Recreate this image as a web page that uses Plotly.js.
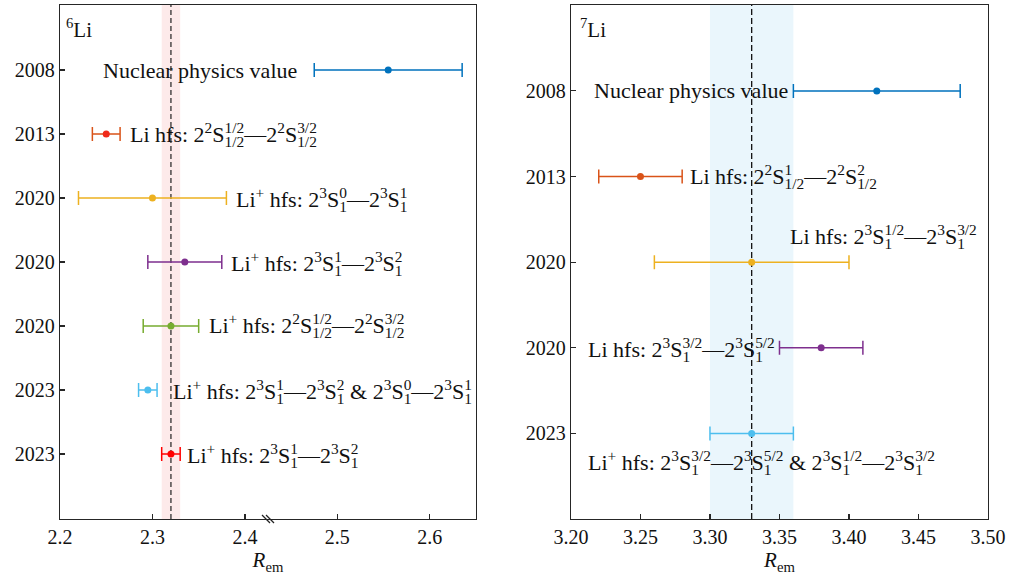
<!DOCTYPE html>
<html><head><meta charset="utf-8">
<script src="https://cdn.plot.ly/plotly-3.0.1.min.js"></script>
<style>html,body{margin:0;padding:0;background:#fff}</style>
</head><body><div id="chart" style="width:1010px;height:576px"></div>
<script>
// ---------- data ----------
const li6Years  = ['2008', '2013', '2020', '2020', '2020', '2023', '2023'];
const li6Values = [2.555, 2.25, 2.30, 2.335, 2.32, 2.295, 2.32];
const li6Errors = [0.08, 0.015, 0.08, 0.04, 0.03, 0.01, 0.01];
const li6Ref = 2.32;
const li6Band = [2.31, 2.33];
const li6Ticks = [2.2, 2.3, 2.4, 2.5, 2.6];

const li7Years  = ['2008', '2013', '2020', '2020', '2023'];
const li7Values = [3.42, 3.25, 3.33, 3.38, 3.33];
const li7Errors = [0.06, 0.03, 0.07, 0.03, 0.03];
const li7Ref = 3.33;
const li7Band = [3.30, 3.36];
const li7Ticks = [3.20, 3.25, 3.30, 3.35, 3.40, 3.45, 3.50];
const axisBreak = 2.425;

// ---------- styles ----------
const FONT = 'Liberation Serif, Times New Roman, serif';
const LABEL_SIZE = 22;
const TICK_SIZE = 20;
const TEXT = '#111111';
const li6Colors  = ['#0072BD', '#D95319', '#EDB120', '#7E2F8E', '#77AC30', '#4DBEEE', '#FF0000'];
const li6Markers = ['#0072BD', '#F02A1A', '#EDB120', '#7E2F8E', '#77AC30', '#4DBEEE', '#FF0000'];
const li7Colors  = ['#0072BD', '#D95319', '#EDB120', '#7E2F8E', '#4DBEEE'];

const ctx = document.createElement('canvas').getContext('2d');
function tw(s, size) { ctx.font = size + 'px "Liberation Serif"'; return ctx.measureText(s).width; }
// stacked superscript / subscript
function st(sup, sub) {
  const sz = LABEL_SIZE * 0.7;
  const ws = tw(sub, sz), wp = tw(sup, sz);
  const extra = Math.max(0, ws - wp);
  return '<sub>' + sub.slice(0, -1) + '<span style="letter-spacing:' + (-ws).toFixed(2) + 'px">' + sub.slice(-1) + '</span></sub>' +
         '<sup>' + sup.slice(0, -1) +
         (extra > 0 ? '<span style="letter-spacing:' + extra.toFixed(2) + 'px">' + sup.slice(-1) + '</span>' : sup.slice(-1)) +
         '</sup>';
}
const S2 = '2<sup>2</sup>S', S3 = '2<sup>3</sup>S', LIP = 'Li<sup>+</sup>';
const li6Labels = [
  'Nuclear physics value',
  'Li hfs: ' + S2 + st('1/2', '1/2') + '—' + S2 + st('3/2', '1/2'),
  LIP + ' hfs: ' + S3 + st('0', '1') + '—' + S3 + st('1', '1'),
  LIP + ' hfs: ' + S3 + st('1', '1') + '—' + S3 + st('2', '1'),
  LIP + ' hfs: ' + S2 + st('1/2', '1/2') + '—' + S2 + st('3/2', '1/2'),
  LIP + ' hfs: ' + S3 + st('1', '1') + '—' + S3 + st('2', '1') + ' &amp; ' + S3 + st('0', '1') + '—' + S3 + st('1', '1'),
  LIP + ' hfs: ' + S3 + st('1', '1') + '—' + S3 + st('2', '1')
];
const li7Labels = [
  'Nuclear physics value',
  'Li hfs: ' + S2 + st('1', '1/2') + '—' + S2 + st('2', '1/2'),
  'Li hfs: ' + S3 + st('1/2', '1') + '—' + S3 + st('3/2', '1'),
  'Li hfs: ' + S3 + st('3/2', '1') + '—' + S3 + st('5/2', '1'),
  LIP + ' hfs: ' + S3 + st('3/2', '1') + '—' + S3 + st('5/2', '1') + ' &amp; ' + S3 + st('1/2', '1') + '—' + S3 + st('3/2', '1')
];
// label placement: side of bar ('L' left of bar, 'R' right of bar, 'C' centred on value), pixel shifts
const li6Place = [['L', -15, 0], ['R', 8, 0], ['R', 8, 0], ['R', 7, 0], ['R', 8, 0], ['R', 14, 0], ['R', 5, 0]];
const li7Place = [['L', -3, 0], ['R', 6, 0], ['C', 132, 27], ['L', -2, 0], ['C', 10, -28]];

function idx(a) { return a.map((_, i) => i); }

const traces = [];
const annotations = [];
function addPanel(values, errors, colors, markers, labels, place, xa, ya) {
  values.forEach((v, i) => {
    traces.push({
      type: 'scatter', mode: 'markers', x: [v], y: [i], xaxis: xa, yaxis: ya,
      marker: { color: markers[i], size: 7 },
      error_x: { type: 'data', array: [errors[i]], visible: true, color: colors[i], thickness: 1.5, width: 7 },
      hoverinfo: 'skip', showlegend: false, cliponaxis: false
    });
    const p = place[i];
    let x = v, anchor = 'center';
    if (p[0] === 'L') { x = v - errors[i]; anchor = 'right'; }
    if (p[0] === 'R') { x = v + errors[i]; anchor = 'left'; }
    annotations.push({
      xref: xa, yref: ya, x: x, y: i, text: labels[i], showarrow: false,
      xanchor: anchor, yanchor: 'middle', xshift: p[1], yshift: p[2],
      font: { family: FONT, size: LABEL_SIZE, color: TEXT }
    });
  });
}
addPanel(li6Values, li6Errors, li6Colors, li6Markers, li6Labels, li6Place, 'x', 'y');
addPanel(li7Values, li7Errors, li7Colors, li7Colors, li7Labels, li7Place, 'x2', 'y2');

annotations.push({ xref: 'x domain', yref: 'y domain', x: 0.01, y: 0.955, xanchor: 'left', yanchor: 'middle',
  text: '<sup>6</sup>Li', showarrow: false, font: { family: FONT, size: LABEL_SIZE - 1, color: TEXT } });
annotations.push({ xref: 'x2 domain', yref: 'y2 domain', x: 0.016, y: 0.955, xanchor: 'left', yanchor: 'middle',
  text: '<sup>7</sup>Li', showarrow: false, font: { family: FONT, size: LABEL_SIZE - 1, color: TEXT } });

const shapes = [
  { type: 'rect', xref: 'x', yref: 'y domain', x0: li6Band[0], x1: li6Band[1], y0: 0, y1: 1,
    fillcolor: 'rgba(250,200,200,0.38)', line: { width: 0 }, layer: 'below' },
  { type: 'line', xref: 'x', yref: 'y domain', x0: li6Ref, x1: li6Ref, y0: 0, y1: 1,
    line: { color: '#222', width: 1.2, dash: '5px,3px' }, layer: 'below' },
  { type: 'rect', xref: 'x2', yref: 'y2 domain', x0: li7Band[0], x1: li7Band[1], y0: 0, y1: 1,
    fillcolor: 'rgba(200,232,248,0.38)', line: { width: 0 }, layer: 'below' },
  { type: 'line', xref: 'x2', yref: 'y2 domain', x0: li7Ref, x1: li7Ref, y0: 0, y1: 1,
    line: { color: '#111', width: 1.3, dash: '6px,3px' }, layer: 'below' }
];
// axis-break marks
[-2, 2].forEach(d => {
  shapes.push({ type: 'line', xref: 'x', yref: 'paper', xsizemode: 'pixel', ysizemode: 'pixel',
    xanchor: axisBreak, yanchor: 0, x0: d - 4, x1: d + 4, y0: 4, y1: -4,
    line: { color: '#222', width: 1.2 } });
});

const axisCommon = {
  showline: true, mirror: true, linecolor: '#262626', linewidth: 1.3,
  ticks: 'inside', ticklen: 5, tickwidth: 1.2, tickcolor: '#262626',
  showgrid: false, zeroline: false, fixedrange: true,
  tickfont: { family: FONT, size: TICK_SIZE, color: TEXT }
};
const titleFont = { family: FONT, size: 21, color: TEXT };
const layout = {
  width: 1010, height: 576,
  margin: { l: 60, r: 22, t: 5, b: 57 },
  paper_bgcolor: '#fff', plot_bgcolor: '#fff',
  font: { family: FONT, size: TICK_SIZE, color: TEXT },
  showlegend: false,
  xaxis: Object.assign({}, axisCommon, {
    domain: [0, 0.4483], range: [2.2, 2.65], tickvals: li6Ticks, ticktext: li6Ticks.map(v => v.toFixed(1)),
    title: { text: '<i>R</i><sub>em</sub>', font: titleFont, standoff: 4 }
  }),
  yaxis: Object.assign({}, axisCommon, {
    domain: [0, 1], range: [7.016, -1.016], tickvals: idx(li6Years), ticktext: li6Years
  }),
  xaxis2: Object.assign({}, axisCommon, {
    domain: [0.5506, 1], range: [3.2, 3.5], tickvals: li7Ticks, ticktext: li7Ticks.map(v => v.toFixed(2)),
    title: { text: '<i>R</i><sub>em</sub>', font: titleFont, standoff: 4 }
  }),
  yaxis2: Object.assign({}, axisCommon, {
    domain: [0, 1], anchor: 'x2', range: [5.0, -1.003], tickvals: idx(li7Years), ticktext: li7Years
  }),
  annotations: annotations,
  shapes: shapes
};
layout.xaxis2.anchor = 'y2';
Plotly.newPlot('chart', traces, layout, { displayModeBar: false, staticPlot: true });
</script>
</body></html>
